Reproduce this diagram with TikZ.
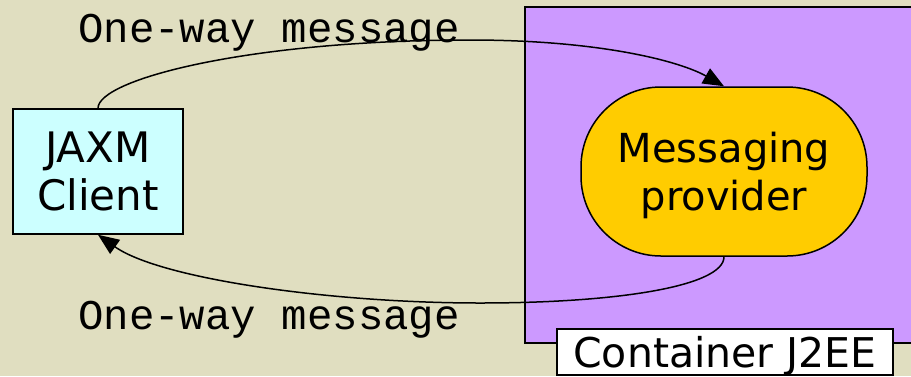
\documentclass[tikz,border=0pt]{standalone}
\usepackage{fontspec}
\setmainfont{DejaVu Sans}
\newfontfamily\msgfont{Liberation Mono}
\usetikzlibrary{arrows.meta}
\definecolor{paper}{RGB}{224,222,192}
\definecolor{jeelilac}{RGB}{204,153,255}
\definecolor{clientcyan}{RGB}{204,255,255}
\definecolor{provideryellow}{RGB}{255,204,0}

\begin{document}
\begin{tikzpicture}[x=1pt,y=-1pt,
    boxnode/.style={draw,line width=1.5pt,align=center,text depth=0pt,inner sep=0pt},
    msglabel/.style={font=\msgfont\fontsize{42.4}{48}\selectfont,anchor=base west,inner sep=0pt},
    msgflow/.style={line width=1.5pt,-{Triangle[length=21pt,width=17pt]}}]

  \fill[paper] (0,0) rectangle (911,376);
  \useasboundingbox (0,0) rectangle (911,376);

  % container and its label
  \draw[fill=jeelilac,line width=1.5pt] (525,7) rectangle (920,343);
  \node[boxnode,fill=white,minimum width=336pt,minimum height=46pt,
        font=\fontsize{41}{48}\selectfont] (j2ee) at (725,352) {Container J2EE};

  % client and provider
  \node[boxnode,fill=clientcyan,minimum width=170pt,minimum height=125pt,
        font=\fontsize{42}{48}\selectfont] (client) at (98,171.5) {JAXM\\Client};
  \node[boxnode,fill=provideryellow,rounded corners=80pt,minimum width=286pt,
        minimum height=169pt,font=\fontsize{40}{48}\selectfont] (provider) at (724,171.5) {Messaging\\provider};

  % messages
  \coordinate (topmid) at (470,40);
  \coordinate (botmid) at (480,303);
  \draw[msgflow] (client.north) .. controls +(0,-29) and +(-220,0) .. (topmid)
                 .. controls +(130,0) and +(-44,-25) .. (provider.north);
  \draw[msgflow] (provider.south) .. controls +(0,29) and +(140,0) .. (botmid)
                 .. controls +(-150,0) and +(62,44) .. (client.south);

  \node[msglabel] (sendlabel) at (78,42) {One-way message};
  \node[msglabel] (replylabel) at (78,329) {One-way message};

\end{tikzpicture}
\end{document}
